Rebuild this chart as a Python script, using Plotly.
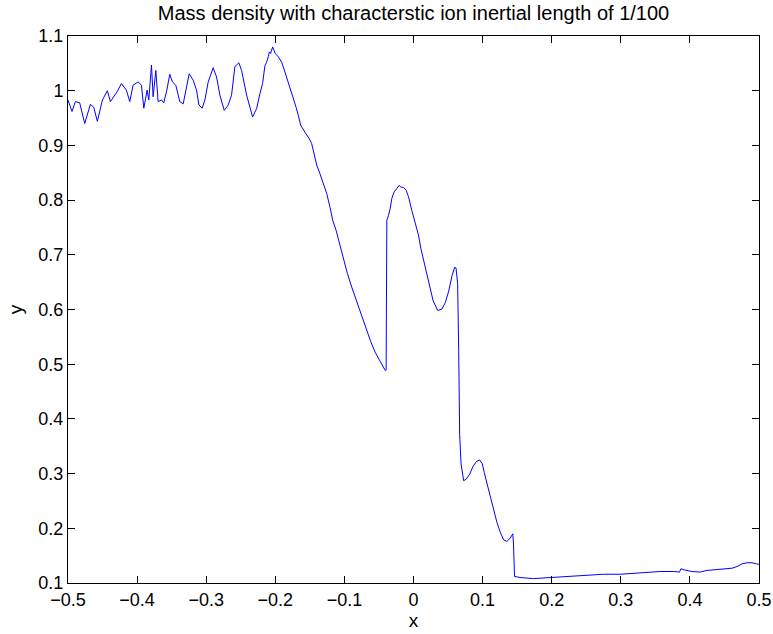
import plotly.graph_objects as go

# ---- data ----
x_pos = [
    -0.5000, -0.4942, -0.4894, -0.4831, -0.4758, -0.4676, -0.4628, -0.4575, -0.4502, -0.4469,
    -0.4430, -0.4386, -0.4338, -0.4290, -0.4227, -0.4155, -0.4106, -0.4058, -0.3986, -0.3937,
    -0.3903, -0.3865, -0.3855, -0.3831, -0.3792, -0.3768, -0.3729, -0.3696, -0.3647, -0.3614,
    -0.3575, -0.3527, -0.3488, -0.3440, -0.3382, -0.3333, -0.3285, -0.3246, -0.3188, -0.3140,
    -0.3106, -0.3058, -0.3019, -0.2971, -0.2899, -0.2850, -0.2802, -0.2739, -0.2681, -0.2633,
    -0.2585, -0.2527, -0.2488, -0.2415, -0.2329,
    -0.2271, -0.2222, -0.2184, -0.2150, -0.2126, -0.2101, -0.2087, -0.2068, -0.2039, -0.2019,
    -0.2000, -0.1957, -0.1908, -0.1860, -0.1812, -0.1763, -0.1700, -0.1667, -0.1633, -0.1570,
    -0.1507, -0.1473, -0.1440, -0.1401, -0.1353, -0.1304, -0.1256, -0.1208, -0.1169, -0.1121,
    -0.1072, -0.1014, -0.0957, -0.0894, -0.0821, -0.0749, -0.0676, -0.0618, -0.0556, -0.0483,
    -0.0411, -0.0396, -0.0386, -0.0362, -0.0338, -0.0314, -0.0280, -0.0242, -0.0208, -0.0184,
    -0.0145, -0.0106, -0.0072, -0.0024, 0.0024, 0.0072,
    0.0106, 0.0173, 0.0221, 0.0284, 0.0351, 0.0413, 0.0462, 0.0510, 0.0558, 0.0596,
    0.0615, 0.0639, 0.0654, 0.0668, 0.0688, 0.0726, 0.0764, 0.0813, 0.0861, 0.0909,
    0.0957, 0.0995, 0.1024, 0.1072, 0.1120, 0.1159, 0.1207, 0.1255, 0.1303, 0.1351,
    0.1399, 0.1438, 0.1447, 0.1462, 0.1543, 0.1736, 0.1976, 0.2264, 0.2505, 0.2745,
    0.2990,
    0.3232, 0.3377, 0.3570, 0.3763, 0.3850, 0.3870, 0.3918, 0.4029, 0.4150, 0.4246,
    0.4343, 0.4488, 0.4609, 0.4681, 0.4754, 0.4826, 0.4899, 0.4966, 0.5000,
]

mass_density = [
    0.983, 0.962, 0.980, 0.978, 0.940, 0.975, 0.970, 0.944, 0.983, 0.992,
    1.000, 0.980, 0.988, 0.998, 1.013, 1.001, 0.980, 1.010, 1.016, 1.010,
    0.968, 0.992, 1.001, 0.983, 1.047, 0.989, 1.037, 0.980, 0.983, 0.978,
    0.998, 1.030, 1.016, 1.010, 0.980, 0.976, 1.010, 1.031, 1.019, 1.001,
    0.974, 0.968, 0.983, 1.016, 1.042, 1.025, 0.992, 0.964, 0.974, 0.992,
    1.044, 1.051, 1.037, 0.992, 0.952,
    0.967, 0.995, 1.013, 1.046, 1.052, 1.062, 1.071, 1.068, 1.080, 1.074,
    1.068, 1.062, 1.052, 1.034, 1.016, 0.995, 0.970, 0.955, 0.937, 0.924,
    0.912, 0.903, 0.882, 0.864, 0.848, 0.830, 0.812, 0.787, 0.763, 0.745,
    0.720, 0.693, 0.666, 0.641, 0.614, 0.586, 0.559, 0.541, 0.522, 0.504,
    0.489, 0.489, 0.763, 0.772, 0.784, 0.803, 0.815, 0.821, 0.827, 0.824,
    0.823, 0.818, 0.806, 0.781, 0.757, 0.736,
    0.712, 0.677, 0.647, 0.616, 0.598, 0.601, 0.613, 0.634, 0.662, 0.677,
    0.676, 0.647, 0.525, 0.372, 0.318, 0.287, 0.290, 0.299, 0.313, 0.322,
    0.325, 0.318, 0.302, 0.275, 0.254, 0.235, 0.211, 0.193, 0.179, 0.176,
    0.182, 0.190, 0.171, 0.112, 0.110, 0.108, 0.110, 0.113, 0.115, 0.116,
    0.116,
    0.118, 0.120, 0.121, 0.121, 0.120, 0.126, 0.124, 0.121, 0.120, 0.123,
    0.124, 0.126, 0.127, 0.130, 0.135, 0.137, 0.137, 0.135, 0.134,
]

x_ticks = [-0.5, -0.4, -0.3, -0.2, -0.1, 0, 0.1, 0.2, 0.3, 0.4, 0.5]
y_ticks = [0.1, 0.2, 0.3, 0.4, 0.5, 0.6, 0.7, 0.8, 0.9, 1.0, 1.1]
y_tick_text = ["0.1", "0.2", "0.3", "0.4", "0.5", "0.6", "0.7", "0.8", "0.9", "1", "1.1"]

title_text = "Mass density with characterstic ion inertial length of 1/100"

FONT = "Liberation Sans, Arial, Helvetica, sans-serif"

fig = go.Figure()
fig.add_trace(go.Scatter(
    x=x_pos, y=mass_density, mode="lines",
    line=dict(color="#0000ff", width=1),
    showlegend=False, hoverinfo="x+y",
))

axis_common = dict(
    showgrid=False, zeroline=False,
    showline=True, linecolor="black", linewidth=1, mirror="ticks",
    ticks="inside", ticklen=7, tickwidth=1, tickcolor="black",
    tickfont=dict(family=FONT, size=18, color="black"),
    ticklabeloverflow="allow",
    automargin=False,
)

fig.update_layout(
    width=773, height=634,
    margin=dict(l=68, r=14, t=36, b=51),
    paper_bgcolor="white", plot_bgcolor="white",
    font=dict(family=FONT, size=18, color="black"),
    title=dict(
        text=title_text, x=0.5, xref="paper", xanchor="center",
        y=1 - 13 / 634, yanchor="middle", yref="container",
        font=dict(family=FONT, size=20, color="black"),
    ),
    xaxis=dict(
        range=[-0.5, 0.5], tickvals=x_ticks,
        title=dict(text="x", standoff=4, font=dict(family=FONT, size=19)),
        **axis_common,
    ),
    yaxis=dict(
        range=[0.1, 1.1], tickvals=y_ticks, ticktext=y_tick_text,
        title=dict(text="y", standoff=10, font=dict(family=FONT, size=19)),
        **axis_common,
    ),
)

fig.write_html(
    "out.html",
    config={"displayModeBar": False},
    post_script="document.body.style.margin='0';document.body.style.padding='0';document.body.style.overflow='hidden';",
)
